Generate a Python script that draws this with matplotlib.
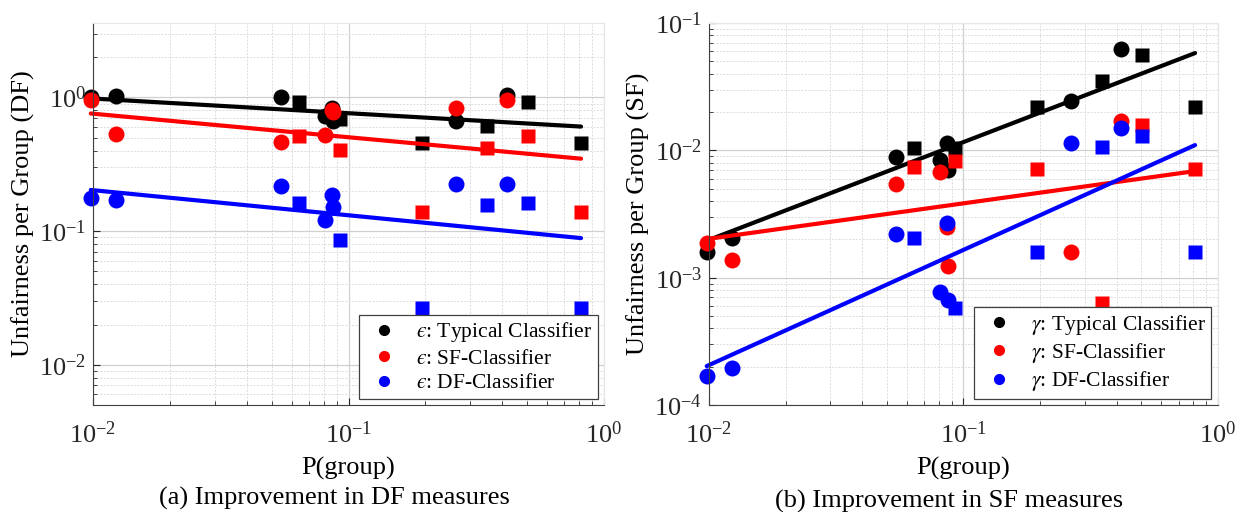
import numpy as np
import matplotlib.pyplot as plt
from matplotlib.lines import Line2D
from matplotlib.ticker import LogLocator, NullFormatter

plt.rcParams['font.family'] = ['Liberation Serif', 'DejaVu Serif']
plt.rcParams['mathtext.fontset'] = 'stix'

# group probabilities (circles / squares = two sets of groups)
p_circ = [0.0098, 0.0123, 0.0544, 0.081, 0.086, 0.087, 0.264, 0.417]
p_sq = [0.064, 0.0927, 0.194, 0.349, 0.504, 0.813]
p_fit = [0.0098, 0.813]

# (a) DF unfairness per group
df_typ_circ = [1.0, 1.02, 1.0, 0.73, 0.83, 0.67, 0.67, 1.05]
df_sf_circ = [0.95, 0.536, 0.467, 0.527, 0.80, 0.78, 0.84, 0.95]
df_df_circ = [0.177, 0.171, 0.218, 0.121, 0.187, 0.151, 0.226, 0.226]
df_typ_sq = [0.92, 0.695, 0.459, 0.616, 0.92, 0.459]
df_sf_sq = [0.518, 0.407, 0.139, 0.421, 0.518, 0.139]
df_df_sq = [0.162, 0.0855, 0.0268, 0.157, 0.162, 0.0268]
df_fit_typ = [0.983, 0.605]
df_fit_sf = [0.758, 0.348]
df_fit_df = [0.203, 0.0886]

# (b) SF unfairness per group
sf_typ_circ = [0.00159, 0.00205, 0.00885, 0.00839, 0.0114, 0.0070, 0.0244, 0.0625]
sf_sf_circ = [0.00187, 0.00137, 0.00543, 0.00676, 0.00249, 0.00123, 0.00159, 0.0170]
sf_df_circ = [0.000169, 0.000195, 0.00220, 0.00077, 0.00268, 0.000667, 0.0114, 0.0150]
sf_typ_sq = [0.0104, 0.0104, 0.0219, 0.035, 0.0561, 0.0219]
sf_sf_sq = [0.00739, 0.00824, 0.00713, 0.000631, 0.0158, 0.00713]
sf_df_sq = [0.00205, 0.000577, 0.00159, 0.0106, 0.0130, 0.00159]
sf_fit_typ = [0.00195, 0.0581]
sf_fit_sf = [0.00201, 0.00687]
sf_fit_df = [0.000202, 0.0110]

colors = ['black', 'red', 'blue']
names = ['Typical Classifier', 'SF-Classifier', 'DF-Classifier']

fig = plt.figure(figsize=(12.39, 5.12), dpi=100)
ax1 = fig.add_axes([0.0751, 0.209, 0.4124, 0.746])
ax2 = fig.add_axes([0.5722, 0.209, 0.4108, 0.746])


def draw(ax, circ, sq, fits, sym, ylabel, ylim):
    for c, yc, ys, yf in zip(colors, circ, sq, fits):
        ax.plot(p_circ, yc, 'o', color=c, ms=11.5, mec='none', clip_on=False)
        ax.plot(p_sq, ys, 's', color=c, ms=9.5, mec='none', clip_on=False)
        ax.plot(p_fit, yf, '-', color=c, lw=3, solid_capstyle='round', clip_on=False)
    ax.set_xscale('log')
    ax.set_yscale('log')
    ax.set_xlim(0.01, 1)
    ax.set_ylim(*ylim)
    for axis in (ax.xaxis, ax.yaxis):
        axis.set_minor_locator(LogLocator(base=10, subs=np.arange(2, 10)))
        axis.set_minor_formatter(NullFormatter())
    ax.grid(True, which='major', color='#d0d0d0', lw=0.9, ls='-')
    ax.grid(True, which='minor', color='#dcdcdc', lw=0.7, ls=(0, (2, 1.5)))
    ax.set_axisbelow(True)
    ax.tick_params(which='both', direction='in', colors='#262626', labelsize=19)
    ax.tick_params(axis='x', which='major', pad=12)
    ax.tick_params(axis='y', which='major', pad=5)
    ax.tick_params(which='major', length=5)
    ax.tick_params(which='minor', length=3)
    for s in ('top', 'right'):
        ax.spines[s].set_color('#e6e6e6')
    for s in ('left', 'bottom'):
        ax.spines[s].set_color('#404040')
    ax.set_xlabel('P(group)', fontsize=19, labelpad=6)
    ax.set_ylabel(ylabel, fontsize=19, labelpad=3)
    handles = [Line2D([], [], ls='none', marker='o', color=c, ms=7) for c in colors]
    labels = [f'${sym}$: {n}' for n in names]
    leg = ax.legend(handles, labels, loc='lower right', fontsize=15.5,
                    fancybox=False, framealpha=1, edgecolor='#404040',
                    borderaxespad=0.3, handletextpad=0.6, labelspacing=0.2,
                    borderpad=0.25, handlelength=1.8)
    leg.get_frame().set_linewidth(0.9)
    leg.set_zorder(5)


draw(ax1, [df_typ_circ, df_sf_circ, df_df_circ], [df_typ_sq, df_sf_sq, df_df_sq],
     [df_fit_typ, df_fit_sf, df_fit_df], '\u03f5', 'Unfairness per Group (DF)',
     (0.005, 3.6))
draw(ax2, [sf_typ_circ, sf_sf_circ, sf_df_circ], [sf_typ_sq, sf_sf_sq, sf_df_sq],
     [sf_fit_typ, sf_fit_sf, sf_fit_df], r'\gamma', 'Unfairness per Group (SF)',
     (1e-4, 1e-1))

fig.text(0.27, 0.027, '(a) Improvement in DF measures', ha='center', va='center', fontsize=19)
fig.text(0.766, 0.02, '(b) Improvement in SF measures', ha='center', va='center', fontsize=19)

fig.savefig('out.png', dpi=100)
